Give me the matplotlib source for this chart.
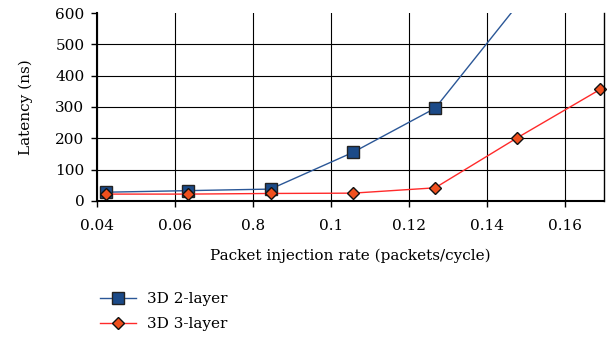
import matplotlib.pyplot as plt

rate = [0.0422, 0.0633, 0.0845, 0.1056, 0.1267, 0.1478, 0.169]
two_layer = [28, 33, 38, 155, 296, 625, 900]
three_layer = [22, 22, 24, 25, 42, 202, 356]
xtick_vals = [0.04, 0.06, 0.08, 0.10, 0.12, 0.14, 0.16]
xtick_labels = ["0.04", "0.06", "0.8", "0.1", "0.12", "0.14", "0.16"]
ytick_vals = [0, 100, 200, 300, 400, 500, 600]

plt.rcParams['font.family'] = ['DejaVu Serif']
plt.rcParams['font.size'] = 11

fig = plt.figure(figsize=(6.08, 3.37), dpi=100)
ax = fig.add_axes([0.1595, 0.4036, 0.8339, 0.5578])

ax.plot(rate, two_layer, color="#2b5797", linewidth=1.0, marker="s", markersize=8,
        markerfacecolor="#1b4a88", markeredgecolor="#222222", markeredgewidth=1.0,
        label="3D 2-layer", clip_on=True)
ax.plot(rate, three_layer, color="#ff2a2a", linewidth=1.0, marker="D", markersize=6.5,
        markerfacecolor="#f0501e", markeredgecolor="#111111", markeredgewidth=1.0,
        label="3D 3-layer", clip_on=False)

ax.set_xlim(0.04, 0.17)
ax.set_ylim(0, 600)
ax.set_xticks(xtick_vals)
ax.set_xticklabels(xtick_labels)
ax.set_yticks(ytick_vals)
ax.grid(True, color="black", linewidth=0.8)
ax.set_axisbelow(True)
# no line along the top at 600
ax.yaxis.get_gridlines()[-1].set_visible(False)

ax.spines['top'].set_visible(False)
ax.spines['left'].set_linewidth(1.5)
ax.spines['bottom'].set_linewidth(1.5)
ax.spines['right'].set_linewidth(1.0)
ax.tick_params(axis="x", direction="out", length=4, width=1, pad=9)
ax.tick_params(axis="y", direction="out", length=4, width=1, pad=5)

ax.set_xlabel("Packet injection rate (packets/cycle)", labelpad=11)
ax.set_ylabel("Latency (ns)", labelpad=16)

fig.legend(loc="upper left", bbox_to_anchor=(0.155, 0.152), frameon=False,
           handlelength=2.35, labelspacing=0.72, borderaxespad=0, handletextpad=0.7)

fig.savefig("out.png", dpi=100)
